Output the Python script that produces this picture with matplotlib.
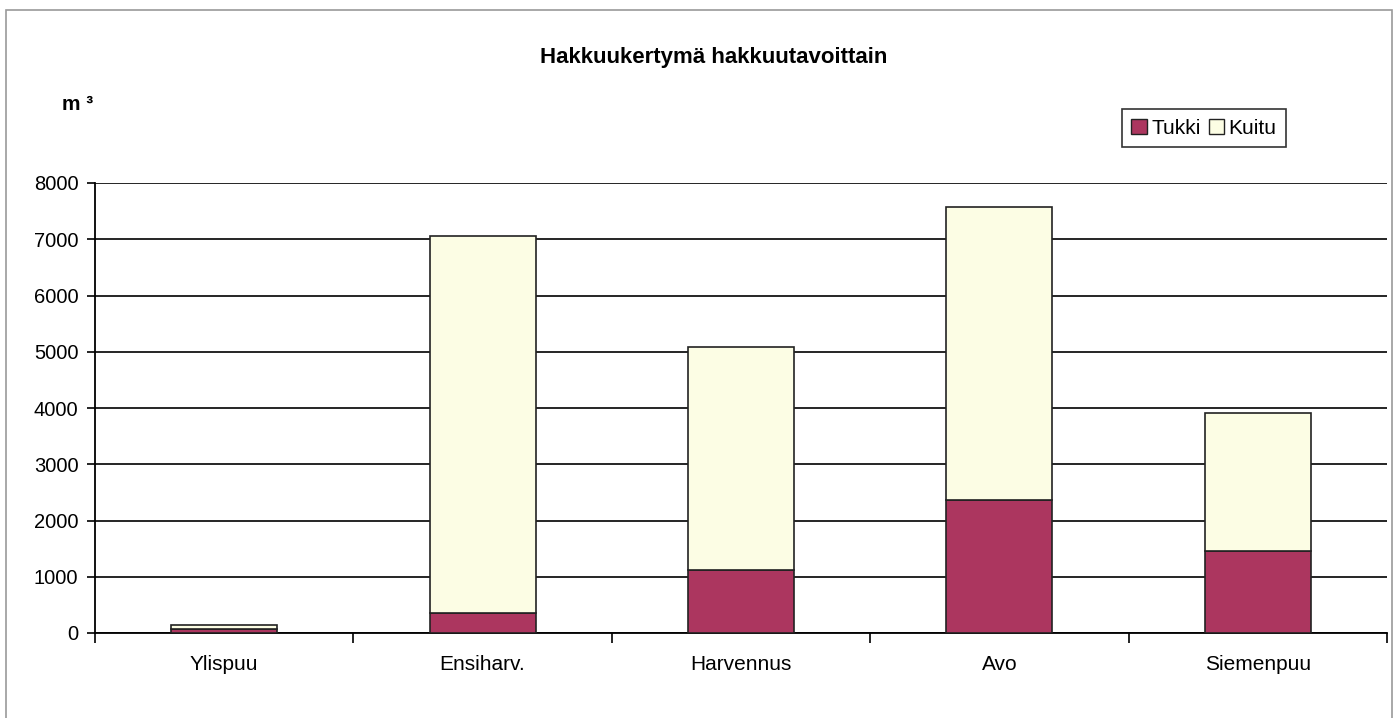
import matplotlib
matplotlib.use("Agg")
import matplotlib.pyplot as plt
from matplotlib.patches import Rectangle, Patch
import numpy as np

plt.rcParams['font.family'] = ['Liberation Sans', 'DejaVu Sans']

categories = ["Ylispuu", "Ensiharv.", "Harvennus", "Avo", "Siemenpuu"]
tukki = [70, 350, 1120, 2360, 1460]
kuitu = [80, 6710, 3970, 5210, 2450]
yticks = [0, 1000, 2000, 3000, 4000, 5000, 6000, 7000, 8000]

c_tukki = "#AC365F"
c_kuitu = "#FCFDE4"

fig = plt.figure(figsize=(13.98, 7.18), dpi=100)
ax = fig.add_axes([95 / 1398, 1 - 633 / 718, (1387 - 95) / 1398, (633 - 183) / 718])

# outer chart frame
fig.patches.append(Rectangle((6 / 1398, -0.02), (1392 - 6) / 1398, 1.02 - 10 / 718,
                             transform=fig.transFigure, fill=False, edgecolor="#9a9a9a", lw=1.2))

x = np.arange(len(categories))
ax.bar(x, tukki, width=0.41, color=c_tukki, edgecolor="#222222", lw=1.2, zorder=3)
ax.bar(x, kuitu, width=0.41, bottom=tukki, color=c_kuitu, edgecolor="#222222", lw=1.2, zorder=3)

ax.set_xlim(-0.5, len(categories) - 0.5)
ax.set_ylim(0, 8000)
ax.set_yticks(yticks)
ax.set_yticklabels([str(v) for v in yticks], fontsize=14.5)
ax.yaxis.grid(True, color="black", lw=1.2, zorder=0)
ax.set_axisbelow(True)

ax.set_xticks(x)
ax.set_xticklabels(categories, fontsize=15)
ax.tick_params(axis="x", which="major", length=0, pad=16)
ax.set_xticks(np.arange(len(categories) + 1) - 0.5, minor=True)
ax.tick_params(axis="x", which="minor", length=7, width=1.2, direction="out")
ax.tick_params(axis="y", length=6, width=1.2, direction="out", pad=6)

for s in ["top", "right"]:
    ax.spines[s].set_visible(False)
for s in ["left", "bottom"]:
    ax.spines[s].set_linewidth(1.3)
    ax.spines[s].set_color("black")

fig.text(714 / 1398, 1 - 57 / 718, "Hakkuukertymä hakkuutavoittain", ha="center", va="center",
         fontsize=16, fontweight="bold")
fig.text(62 / 1398, 1 - 104 / 718, "m ³", ha="left", va="center", fontsize=15, fontweight="bold")

handles = [Patch(facecolor=c_tukki, edgecolor="#222222", lw=1.0),
           Patch(facecolor=c_kuitu, edgecolor="#222222", lw=1.0)]
leg = fig.legend(handles, ["Tukki", "Kuitu"], ncol=2, loc="center", bbox_to_anchor=(1204 / 1398, 1 - 128 / 718),
                 fontsize=15, frameon=True, fancybox=False, handlelength=0.75, handleheight=0.75,
                 handletextpad=0.2, columnspacing=0.4, borderpad=0.45)
leg.get_frame().set_edgecolor("black")
leg.get_frame().set_linewidth(1.2)

fig.savefig("out.png", dpi=100)
